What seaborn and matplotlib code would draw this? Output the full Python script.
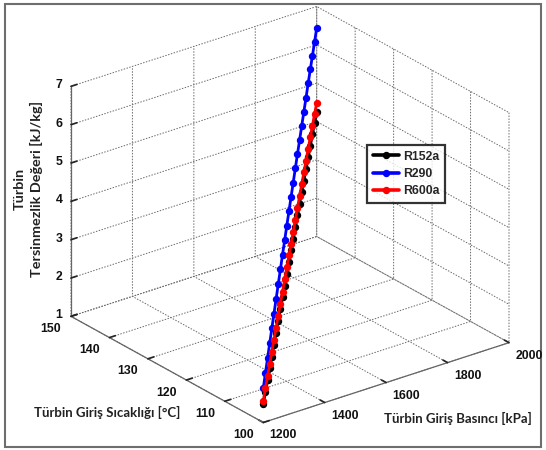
import numpy as np
import pandas as pd
import matplotlib
matplotlib.use("Agg")
import matplotlib.pyplot as plt
import seaborn as sns
from matplotlib.patches import Rectangle
from mpl_toolkits.mplot3d import proj3d

# ---- data ----
temperature = [100, 102, 104, 106, 108, 110, 112, 114, 116, 118, 120, 122, 124,
               126, 128, 130, 132, 134, 136, 138, 140, 142, 144, 146, 148, 150]
pressure = [1200, 1232, 1264, 1296, 1328, 1360, 1392, 1424, 1456, 1488, 1520, 1552, 1584,
            1616, 1648, 1680, 1712, 1744, 1776, 1808, 1840, 1872, 1904, 1936, 1968, 2000]
w_r152a = [1.47, 1.59, 1.71, 1.83, 1.94, 2.06, 2.17, 2.29, 2.40, 2.52, 2.63, 2.74, 2.86,
           2.97, 3.08, 3.19, 3.30, 3.41, 3.52, 3.62, 3.73, 3.84, 3.94, 4.05, 4.15, 4.25]
w_r290 = [1.90, 2.10, 2.29, 2.49, 2.68, 2.87, 3.06, 3.25, 3.44, 3.63, 3.81, 4.00, 4.18,
          4.36, 4.54, 4.72, 4.90, 5.07, 5.25, 5.42, 5.59, 5.77, 5.94, 6.10, 6.27, 6.44]
w_r600a = [1.57, 1.70, 1.82, 1.94, 2.07, 2.19, 2.31, 2.43, 2.55, 2.67, 2.79, 2.91, 3.03,
           3.14, 3.26, 3.38, 3.49, 3.61, 3.72, 3.84, 3.95, 4.06, 4.17, 4.28, 4.39, 4.49]
fluids = ["R152a", "R290", "R600a"]
colors = ["#000000", "#0000FF", "#FF0000"]

x_ticks = [1200, 1400, 1600, 1800, 2000]
y_ticks = [100, 110, 120, 130, 140, 150]
z_ticks = [1, 2, 3, 4, 5, 6, 7]

df = pd.DataFrame({
    "P": pressure * 3,
    "T": temperature * 3,
    "W": w_r152a + w_r290 + w_r600a,
    "fluid": sum([[f] * len(pressure) for f in fluids], []),
})

sns.set_theme(style="white")
plt.rcParams["font.family"] = ["Liberation Sans", "DejaVu Sans"]
palette = dict(zip(fluids, colors))

FW, FH = 546, 450
fig = plt.figure(figsize=(FW / 100, FH / 100), dpi=100)
fig.patch.set_facecolor("white")
W, H = 500, 440
cx, cy = 287.0, 219.0
ax = fig.add_axes([(cx - W / 2) / FW, (FH - cy - H / 2) / FH, W / FW, H / FH],
                  projection="3d", proj_type="ortho")
ax.patch.set_alpha(0)

for f in fluids:
    d = df[df["fluid"] == f]
    ax.plot(d["P"], d["T"], d["W"], color=palette[f], lw=2.0, marker="o",
            ms=4.3, label=f)

xlo, xhi = x_ticks[0], x_ticks[-1]
ylo, yhi = y_ticks[0], y_ticks[-1]
zlo, zhi = z_ticks[0], z_ticks[-1]
ax.set_xlim(xlo, xhi)
ax.set_ylim(ylo, yhi)
ax.set_zlim(zlo, zhi)
ax.set_xticks(x_ticks)
ax.set_yticks(y_ticks)
ax.set_zticks(z_ticks)
ax.set_xticklabels([])
ax.set_yticklabels([])
ax.set_zticklabels([])

for axis in (ax.xaxis, ax.yaxis, ax.zaxis):
    axis.set_pane_color((1, 1, 1, 0))
    axis.pane.set_edgecolor("none")
    axis.line.set_color("#666666")
    axis.line.set_linewidth(0.9)
    axis._axinfo["grid"].update(color="#6a6a6a", linewidth=0.7, linestyle=(0, (1.5, 1.5)))
    axis._axinfo["tick"].update(inward_factor=0.0, outward_factor=0.3)


def to_px(x, y, z):
    px, py, _ = proj3d.proj_transform(x, y, z, ax.get_proj())
    X, Y = ax.transData.transform((px, py))
    return X, FH - Y


def corners():
    fig.canvas.draw()
    return {
        "L": to_px(xlo, yhi, zlo), "R": to_px(xhi, ylo, zlo), "F": to_px(xlo, ylo, zlo),
        "B": to_px(xhi, yhi, zlo), "BT": to_px(xhi, yhi, zhi), "LT": to_px(xlo, yhi, zhi),
    }


# fit the projected box onto the reference's box (pixel targets)
zoom, elev, zasp = 1.13, 23.7, 0.82
for _ in range(7):
    ax.view_init(elev=elev, azim=-127.5)
    ax.set_box_aspect((1.0, 1.02, zasp), zoom=zoom)
    p = corners()
    horiz = p["R"][0] - p["L"][0]
    depth = p["F"][1] - p["B"][1]
    zh = p["L"][1] - p["LT"][1]
    zoom *= 438 / horiz
    s = np.sin(np.radians(elev)) * (186 / 438) / (depth / horiz)
    elev = float(np.degrees(np.arcsin(np.clip(s, 0, 1))))
    zasp *= (230 / 438) / (zh / horiz)
    dx = 290 - (p["L"][0] + p["R"][0]) / 2
    dy = 214.5 - (p["BT"][1] + p["F"][1]) / 2
    bb = ax.get_position()
    ax.set_position([bb.x0 + dx / FW, bb.y0 - dy / FH, bb.width, bb.height])
ax.view_init(elev=elev, azim=-127.5)
ax.set_box_aspect((1.0, 1.02, zasp), zoom=zoom)
fig.canvas.draw()

# tick labels placed MATLAB-style next to the projected tick positions
tick_font = dict(family=["Liberation Sans", "DejaVu Sans"], fontweight="bold", fontsize=8.8,
                 color="#111111", ha="center", va="center")


def put_label(x, y, z, s, dx, dy):
    X, Y = to_px(x, y, z)
    fig.text((X + dx) / FW, 1 - (Y + dy) / FH, s, **tick_font)


for v in x_ticks:
    put_label(v, ylo, zlo, str(v), 20, 13)
for v in y_ticks:
    put_label(xlo, v, zlo, str(v), -20, 12.5)
for v in z_ticks:
    put_label(xlo, yhi, v, str(v), -12, -1)

lab_font = dict(family=["Lato", "DejaVu Sans"], fontweight="bold", color="#222222")
fig.text(107 / FW, 1 - 412 / FH, "Türbin Giriş Sıcaklığı [°C]", ha="center", va="center",
         fontsize=9.5, **lab_font)
fig.text(458 / FW, 1 - 418 / FH, "Türbin Giriş Basıncı [kPa]", ha="center", va="center",
         fontsize=9.5, **lab_font)
fig.text(28 / FW, 1 - 189 / FH, "Türbin\nTersinmezlik Değeri [kJ/kg]", ha="center", va="center",
         rotation=90, multialignment="center", linespacing=1.4, fontsize=10.4, **lab_font)

leg = fig.legend(loc="upper left", bbox_to_anchor=(367 / FW, 1 - 145 / FH), borderaxespad=0,
                 frameon=True, fancybox=False, handlelength=2.2, handletextpad=0.3,
                 borderpad=0.45, labelspacing=0.45,
                 prop=dict(family="Liberation Sans", weight="bold", size=8.8))
leg.get_frame().set_edgecolor("black")
leg.get_frame().set_linewidth(1.6)
for h in leg.get_lines():
    h.set_linewidth(2.6)

fig.patches.append(Rectangle((5 / FW, 1 - 447 / FH), 536 / FW, 443 / FH,
                             transform=fig.transFigure, fill=False, edgecolor="#6e6e6e", lw=1.5))

fig.savefig("out.png", dpi=100)
